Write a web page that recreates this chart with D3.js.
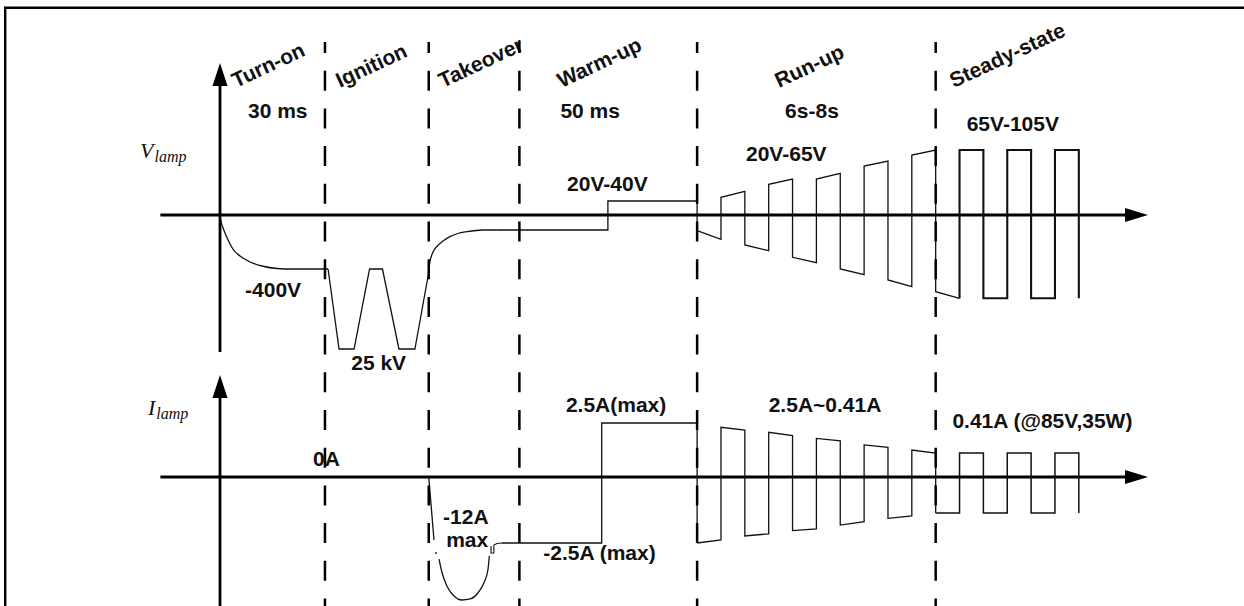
<!DOCTYPE html>
<html>
<head>
<meta charset="utf-8">
<script src="https://cdn.jsdelivr.net/npm/d3@7"></script>
<style>
  html, body { margin: 0; padding: 0; background: #fff; }
  svg { display: block; }
  .lbl { font-family: "Liberation Sans", Arial, sans-serif; font-weight: bold; font-size: 21px; fill: #111; }
  .sym { font-family: "Liberation Serif", "Times New Roman", serif; font-style: italic; fill: #111; }
</style>
</head>
<body>
<svg id="chart" width="1244" height="606"></svg>
<script>
// ---- Start-up sequence of an HID lamp: phases ----
const phaseNames     = ["Turn-on", "Ignition", "Takeover", "Warm-up", "Run-up", "Steady-state"];
const phaseDurations = ["30 ms", "", "", "50 ms", "6s-8s", ""];
// phase boundaries on the time axis (time divisions)
const phaseBounds    = [4.4, 8.75, 12.55, 20, 30];

// ---- Lamp voltage, schematic divisions: [time, level] ----
const vTurnOn = [[0, 0], [0.04, -0.6], [0.13, -1.3], [0.21, -1.8], [0.38, -2.7], [0.54, -3.4],
                 [0.84, -4.1], [1.26, -4.7], [1.76, -5.1], [2.39, -5.35], [3.02, -5.4], [4.53, -5.4]];
const vIgnition = [[4.53, -5.4], [4.99, -13.4], [5.62, -13.4], [6.27, -5.4], [6.81, -5.4],
                   [7.50, -13.4], [8.17, -13.4], [8.73, -6.0]];
const vTakeover = [[8.73, -6.0], [8.80, -4.7], [8.93, -3.7], [9.09, -3.15], [9.35, -2.6], [9.64, -2.17],
                   [9.97, -1.85], [10.35, -1.67], [11.02, -1.5], [11.6, -1.5]];
const vWarmUp   = [[11.6, -1.5], [16.26, -1.5], [16.26, 1.4], [20, 1.4], [20, -1.57]];
const vRunUp    = [[20, -1.57], [21, -2.43], [21, 1.77], [22, 2.37], [22, -3.0], [23, -3.57],
                   [23, 3.07], [24, 3.6], [24, -4.23], [25, -4.77], [25, 3.6], [26, 4.17],
                   [26, -5.4], [27, -5.97], [27, 4.9], [28, 5.4], [28, -6.5], [29, -7.17],
                   [29, 6.0], [30, 6.5], [30, -7.67], [31, -8.33]];
const vSteady   = [[31, -8.33], [31, 6.5], [32, 6.5], [32, -8.33], [33, -8.33], [33, 6.5], [34, 6.5],
                   [34, -8.33], [35, -8.33], [35, 6.5], [36, 6.5], [36, -8.33]];

// ---- Lamp current in amperes: [time, current] ----
const iTakeoverDrop = [[8.75, 0], [8.97, -2.29]];
const iTakeoverDot  = [[9.05, -4.17]];
const iTakeoverArc  = [[9.18, -5.17], [9.30, -7.33], [9.51, -9.67], [9.81, -11.33], [10.14, -12],
                       [10.48, -11.83], [10.81, -10.83], [11.06, -9.17], [11.23, -7.0], [11.29, -4.67]];
const iTakeoverTail = [[11.36, -3.0], [11.36, -4.17], [11.48, -4.17], [11.48, -2.83],
                       [11.61, -2.58], [11.82, -2.5]];
const iWarmUp   = [[11.82, -2.5], [16.0, -2.5], [16.0, 2.5], [20, 2.5], [20, -2.5]];
const iRunUp    = [[20, -2.5], [21, -2.29], [21, 2.2], [22, 2.01], [22, -2.01], [23, -1.86],
                   [23, 1.85], [24, 1.62], [24, -1.64], [25, -1.52], [25, 1.43], [26, 1.25],
                   [26, -1.25], [27, -1.02], [27, 0.97], [28, 0.81], [28, -0.78], [29, -0.62],
                   [29, 0.62], [30, 0.41], [30, -0.41]];
const iSteady   = [[30, -0.41], [31, -0.41], [31, 0.41], [32, 0.41], [32, -0.41], [33, -0.41],
                   [33, 0.41], [34, 0.41], [34, -0.41], [35, -0.41], [35, 0.41], [36, 0.41], [36, -0.41]];

// ---- Annotations ----
const voltageNotes = ["-400V", "25 kV", "20V-40V", "20V-65V", "65V-105V"];
const currentNotes = ["0A", "-12A", "max", "2.5A(max)", "-2.5A (max)", "2.5A~0.41A", "0.41A (@85V,35W)"];

// ---------------------------------------------------------------
const svg = d3.select("#chart");
const W = 1244, H = 606;

// time axis and the two amplitude axes (the sketch is not to scale,
// so the current axis is piecewise linear between its labelled levels)
const x  = d3.scaleLinear().domain([0, 38.9]).range([220, 1148]);
const yV = d3.scaleLinear().domain([-15, 15]).range([365, 65]);
const yI = d3.scaleLinear().domain([-12, -2.5, -0.41, 0, 0.41, 2.5]).range([600, 543, 513, 477, 453, 423]);

const lineV = d3.line().x(d => x(d[0])).y(d => yV(d[1]));
const lineI = d3.line().x(d => x(d[0])).y(d => yI(d[1]));
const ink = "#111";

// frame
svg.append("path")
  .attr("d", `M5.2,${H} V7.8 H${W}`)
  .attr("fill", "none").attr("stroke", "#000").attr("stroke-width", 2.4);

// axes with arrowheads
function hAxis(y0) {
  svg.append("line").attr("x1", x(-2.5)).attr("x2", x(38.9) - 10)
    .attr("y1", y0).attr("y2", y0).attr("stroke", "#000").attr("stroke-width", 2.8);
  const tip = x(38.9);
  svg.append("path").attr("d", `M${tip},${y0} L${tip - 23},${y0 - 7} L${tip - 23},${y0 + 7} Z`).attr("fill", "#000");
}
function vAxis(top, bottom) {
  svg.append("line").attr("x1", x(0)).attr("x2", x(0))
    .attr("y1", top + 12).attr("y2", bottom).attr("stroke", "#000").attr("stroke-width", 2.8);
  svg.append("path").attr("d", `M${x(0)},${top} L${x(0) - 7.5},${top + 23} L${x(0) + 7.5},${top + 23} Z`).attr("fill", "#000");
}
vAxis(63, 352);
hAxis(yV(0));
vAxis(375, H);
hAxis(yI(0));

// axis names
function axisName(xp, yp, main, sub) {
  const t = svg.append("text").attr("class", "sym").attr("x", xp).attr("y", yp).attr("font-size", 22).text(main);
  t.append("tspan").attr("dy", 4).attr("dx", 1).attr("font-size", 16).text(sub);
}
axisName(140, 158, "V", "lamp");
axisName(148, 415, "I", "lamp");

// voltage waveform
const wave = (d, gen, w) => svg.append("path").attr("d", gen(d)).attr("fill", "none")
  .attr("stroke", ink).attr("stroke-width", w).attr("stroke-linejoin", "miter");
wave(vTurnOn,  lineV.curve(d3.curveMonotoneX), 1.3);
wave(vIgnition, lineV.curve(d3.curveLinear), 1.3);
wave(vTakeover, lineV.curve(d3.curveMonotoneX), 1.3);
lineV.curve(d3.curveLinear);
wave(vWarmUp, lineV, 1.3);
wave(vRunUp, lineV, 1.3);
wave(vSteady, lineV, 2.1);

// current waveform
wave(iTakeoverDrop, lineI, 1.3);
svg.selectAll(".dot").data(iTakeoverDot).join("circle").attr("class", "dot")
  .attr("cx", d => x(d[0])).attr("cy", d => yI(d[1])).attr("r", 0.9).attr("fill", ink);
wave(iTakeoverArc, lineI.curve(d3.curveMonotoneX), 1.3);
wave(iTakeoverTail, lineI.curve(d3.curveLinear), 1.1);
wave(iWarmUp, lineI, 1.3);
wave(iRunUp, lineI, 1.3);
wave(iSteady, lineI, 1.5);

// phase names (slanted) and durations
const phaseStarts = [0].concat(phaseBounds);
const nameOffsets = [16, 15, 14, 42, 82, 18];
svg.selectAll(".phase").data(phaseNames).join("text").attr("class", "lbl phase")
  .attr("transform", (d, i) => `translate(${x(phaseStarts[i]) + nameOffsets[i]},88) rotate(-25)`)
  .text(d => d);
const durOffsets = [28, 0, 0, 41, 88, 0];
svg.selectAll(".dur").data(phaseDurations).join("text").attr("class", "lbl dur")
  .attr("x", (d, i) => x(phaseStarts[i]) + durOffsets[i]).attr("y", 118)
  .text(d => d);

// value notes on the voltage trace
const note = (t, xp, yp) => svg.append("text").attr("class", "lbl").attr("x", xp).attr("y", yp).text(t);
note(voltageNotes[0], x(1.05), yV(-5.4) + 28);
note(voltageNotes[1], x(5.5), yV(-13.4) + 21);
note(voltageNotes[2], x(14.55), yV(1.4) - 10);
note(voltageNotes[3], x(22.05), 161);
note(voltageNotes[4], x(31.3), 131);

// value notes on the current trace
note(currentNotes[0], x(3.9), yI(0) - 11);
note(currentNotes[1], x(9.35), 524);
note(currentNotes[2], x(9.48), 547);
note(currentNotes[3], x(14.5), yI(2.5) - 11);
note(currentNotes[4], x(13.55), yI(-2.5) + 17);
note(currentNotes[5], x(23.0), 412);
note(currentNotes[6], x(30.7), 428);

// phase boundaries
svg.selectAll(".bound").data(phaseBounds).join("line").attr("class", "bound")
  .attr("x1", d => x(d)).attr("x2", d => x(d)).attr("y1", 42).attr("y2", H)
  .attr("stroke", "#000").attr("stroke-width", 2.5)
  .attr("stroke-dasharray", "20,17.7").attr("stroke-dashoffset", 9);
</script>
</body>
</html>
